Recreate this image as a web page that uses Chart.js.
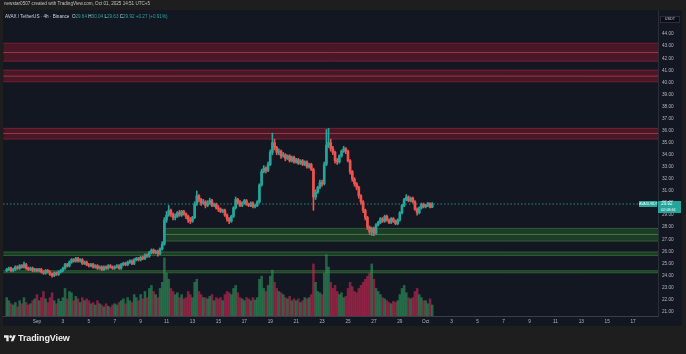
<!DOCTYPE html>
<html><head><meta charset="utf-8">
<script src="https://cdn.jsdelivr.net/npm/chart.js@4.4.1/dist/chart.umd.min.js"></script>
<style>
html,body{margin:0;padding:0;background:#1e1e1e;width:686px;height:354px;overflow:hidden;font-family:"Liberation Sans",Arial,sans-serif;}
#panel{position:absolute;left:3px;top:10px;width:679px;height:316px;background:#131722;}
#c{position:absolute;left:0;top:0;}
.t{position:absolute;white-space:nowrap;line-height:1;}
</style></head><body>
<div id="panel"></div>
<canvas id="c" width="686" height="354"></canvas>
<div class="t" style="left:4px;top:2px;font-size:4.6px;color:#c0c0c0">newstar0507 created with TradingView.com, Oct 01, 2025 14:51 UTC+5</div>
<div class="t" style="left:5px;top:15px;font-size:4.6px;color:#d1d4dc">AVAX / TetherUS · 4h · Binance &nbsp;<span>O</span><span style="color:#26a69a">29.64</span> <span>H</span><span style="color:#26a69a">30.04</span> <span>L</span><span style="color:#26a69a">29.63</span> <span>C</span><span style="color:#26a69a">29.92</span> <span style="color:#26a69a">+0.27 (+0.91%)</span></div>
<div class="t" style="left:660px;top:16px;width:20px;height:7px;background:#0c0e15;border:1px solid #2a2e39;box-sizing:border-box;font-size:3.8px;color:#c8cad0;text-align:center;line-height:5px">USDT</div>
<div class="t" id="symLbl" style="left:639px;width:18px;height:6px;background:#26a69a;color:#fff;font-size:3.6px;text-align:center;line-height:6px">AVAXUSDT</div>
<div class="t" id="priceLbl" style="left:658px;width:23px;height:12px;background:#26a69a;color:#fff;font-size:4.5px;padding-left:3px;box-sizing:border-box;line-height:5.6px">29.92<br><span style="font-size:3.7px">02:08:44</span></div>
<svg style="position:absolute;left:4px;top:334px" width="12" height="8" viewBox="0 0 36 24"><path d="M14 22H7V11H0V4h14v18zM28 22h-8l7.5-18h8L28 22z" fill="#ececec"/><circle cx="20" cy="8" r="4" fill="#ececec"/></svg>
<div class="t" style="left:18px;top:333.5px;font-size:9px;color:#ececec;font-weight:600;letter-spacing:-0.1px">TradingView</div>
<script>
// ---- data (AVAX/USDT 4h, Aug 29 16:00 -> Oct 1 12:00) ----
const firstOpen = 24.4;
const closes = [
 24.5,24.6,
 24.4,24.5,24.7,24.6,24.8,24.7,
 24.9,24.6,24.5,24.6,24.4,24.5,
 24.4,24.5,24.3,24.2,24.4,24.3,
 24.1,24.0,24.2,24.1,24.3,24.4,
 24.6,24.9,24.8,25.1,25.3,25.2,
 25.4,25.2,25.3,25.0,25.1,24.9,
 24.8,24.9,24.7,24.8,24.6,24.7,
 24.5,24.7,24.6,24.8,24.7,24.6,
 24.7,24.8,24.6,24.9,25.0,24.9,
 25.1,25.2,25.0,25.3,25.4,25.3,
 25.5,25.4,25.7,25.6,25.9,26.1,
 25.9,26.0,25.8,26.2,26.6,28.6,
 29.0,29.4,29.1,28.8,28.9,29.2,
 29.0,29.3,29.1,28.9,28.6,28.5,
 28.8,29.9,30.6,30.3,30.0,30.1,
 29.8,30.0,30.2,29.8,29.9,29.6,
 29.5,29.3,29.4,29.0,28.7,28.5,
 28.9,29.6,30.3,30.1,29.8,30.0,
 30.2,29.9,29.8,30.0,29.7,29.8,
 30.1,31.5,32.6,32.9,32.7,33.2,
 34.2,35.0,34.6,34.2,34.3,33.9,
 34.0,33.7,33.9,33.5,33.8,33.4,
 33.6,33.3,33.5,33.2,33.4,33.0,
 33.2,32.8,30.5,30.9,31.3,31.7,
 31.6,33.2,34.8,35.0,34.5,34.2,
 33.5,33.4,33.9,34.3,34.5,34.3,
 33.5,32.6,32.0,31.6,31.3,30.6,
 30.1,29.4,28.8,28.0,27.6,27.9,
 27.5,28.2,28.4,28.7,28.5,28.9,
 28.6,28.4,28.7,28.5,28.3,28.6,
 29.2,29.8,30.3,30.5,30.2,30.4,
 30.1,29.5,29.2,29.6,29.9,29.7,
 29.8,30.0,29.65,29.92
];
const highs = [
 24.6,24.7,
 24.7,24.6,24.8,24.8,24.9,24.9,
 25.1,25.0,24.7,24.7,24.7,24.6,
 24.6,24.6,24.6,24.4,24.5,24.5,
 24.4,24.2,24.3,24.3,24.4,24.5,
 24.7,25.0,25.0,25.2,25.4,25.4,
 25.5,25.5,25.4,25.4,25.2,25.2,
 25.0,25.0,25.0,24.9,24.9,24.8,
 24.8,24.8,24.8,24.9,24.9,24.8,
 24.8,24.9,24.9,25.0,25.1,25.1,
 25.2,25.3,25.3,25.4,25.5,25.5,
 25.6,25.6,25.8,25.8,26.0,26.2,
 26.2,26.1,26.1,26.3,26.8,28.8,
 29.3,29.8,29.5,29.2,29.1,29.3,
 29.4,29.4,29.4,29.2,29.0,28.8,
 28.9,30.1,31.0,30.7,30.4,30.3,
 30.2,30.2,30.4,30.3,30.0,30.0,
 29.8,29.6,29.5,29.5,29.1,28.8,
 29.0,29.7,30.5,30.4,30.2,30.1,
 30.3,30.3,30.0,30.1,30.1,29.9,
 30.2,31.6,32.8,33.1,33.0,33.4,
 34.4,35.8,35.3,34.7,34.5,34.4,
 34.2,34.1,34.0,34.0,33.9,33.9,
 33.7,33.7,33.6,33.6,33.5,33.5,
 33.3,33.3,32.9,31.1,31.4,31.9,
 31.9,33.4,36.1,36.2,35.3,34.7,
 34.3,33.7,34.0,34.4,34.7,34.6,
 34.4,33.6,32.7,32.1,31.7,31.4,
 30.7,30.2,29.5,28.9,28.1,28.0,
 28.0,28.3,28.5,28.8,28.8,29.0,
 29.0,28.7,28.8,28.8,28.6,28.7,
 29.3,29.9,30.4,30.7,30.6,30.5,
 30.5,30.2,29.6,29.7,30.0,30.0,
 29.9,30.04,30.0,30.04
];
const lows = [
 24.3,24.4,
 24.3,24.3,24.4,24.5,24.5,24.6,
 24.6,24.5,24.4,24.4,24.3,24.3,
 24.3,24.3,24.2,24.1,24.1,24.2,
 24.0,23.85,23.9,24.0,24.0,24.2,
 24.3,24.5,24.7,24.7,25.0,25.1,
 25.1,25.1,25.1,24.9,24.9,24.8,
 24.7,24.7,24.6,24.6,24.5,24.5,
 24.4,24.4,24.5,24.5,24.6,24.5,
 24.5,24.6,24.5,24.5,24.8,24.8,
 24.8,25.0,24.9,24.9,25.2,25.2,
 25.2,25.3,25.3,25.5,25.5,25.8,
 25.8,25.8,25.6,25.7,26.1,26.5,
 28.4,28.9,28.9,28.6,28.6,28.8,
 28.9,28.9,29.0,28.7,28.4,28.3,
 28.4,28.7,29.8,30.1,29.8,29.9,
 29.6,29.7,29.9,29.7,29.7,29.5,
 29.3,29.2,29.2,28.9,28.5,28.3,
 28.4,28.8,29.5,29.9,29.7,29.7,
 29.9,29.8,29.7,29.7,29.6,29.6,
 29.7,30.0,31.4,32.5,32.5,32.6,
 33.1,34.0,34.4,34.0,34.0,33.7,
 33.8,33.5,33.6,33.4,33.4,33.3,
 33.3,33.2,33.2,33.1,33.1,32.9,
 32.9,32.7,29.4,30.3,30.8,31.2,
 31.4,31.5,33.1,34.6,34.3,34.0,
 33.3,33.2,33.3,33.8,34.2,34.1,
 33.4,32.4,31.8,31.4,31.1,30.4,
 29.9,29.2,28.6,27.8,27.4,27.3,
 27.3,27.4,28.1,28.3,28.4,28.4,
 28.5,28.3,28.3,28.4,28.2,28.2,
 28.5,29.1,29.7,30.2,30.1,30.1,
 30.0,29.4,29.0,29.1,29.5,29.6,
 29.6,29.7,29.6,29.63
];
const volumes = [
 30,25,
 20,18,22,15,25,20,
 30,22,18,20,25,28,
 35,25,30,40,28,22,
 30,38,25,20,28,24,
 30,45,28,40,38,25,
 32,28,22,30,25,28,
 25,20,22,18,25,20,
 18,15,20,16,14,18,
 20,18,22,25,28,20,
 30,25,22,35,30,25,
 35,28,40,30,45,50,
 40,35,30,45,55,95,
 70,60,45,40,35,38,
 30,35,28,30,40,35,
 30,55,60,40,35,30,
 30,28,32,35,25,30,
 28,30,25,35,40,38,
 35,45,50,38,30,28,
 25,30,28,25,30,26,
 30,60,65,45,40,50,
 65,75,55,45,40,38,
 35,30,28,32,25,28,
 25,28,22,25,30,28,
 30,35,85,55,40,38,
 35,70,100,80,55,45,
 50,40,35,38,30,32,
 45,55,48,40,38,45,
 50,55,60,65,70,85,
 60,45,40,35,30,28,
 25,22,20,24,22,25,
 35,45,50,38,30,28,
 30,40,45,35,30,25,
 25,20,28,18
];
// first candle is 14 bars (4h) before Sep 1 00:00; x unit = days since Sep 1
const barsBeforeSep1 = 14;
const barsPerDay = 6;
// price zones
const zoneTops    = [43.25, 41.02, 36.19, 27.90, 25.95, 24.39];
const zoneBottoms = [41.76, 40.05, 35.30, 26.85, 25.66, 24.22];
const zoneMids    = [42.48, 40.52, 35.77, 27.40, null, null];
const zoneStarts  = [-2.6, -2.6, -2.6, 9.9, -2.6, -2.6];
const zoneKinds   = ['supply','supply','supply','demand','demand','demand'];
const yTickValues = [21,22,23,24,25,26,27,28,29,30,31,32,33,34,35,36,37,38,39,40,41,42,43,44];
const xTickDays   = [0,2,4,6,8,10,12,14,16,18,20,22,24,26,28,30,32,34,36,38,40,42,44,46];
const xTickLabels = ['Sep','3','5','7','9','11','13','15','17','19','21','23','25','27','29','Oct','3','5','7','9','11','13','15','17'];
const lastPrice = 29.92;
const xMin = -2.62, xMax = 47.92, yMin = 20.64, yMax = 46.0;

// ---- build ----
const UP = '#26a69a', DOWN = '#ef5350';
const opens = closes.map((c, i) => i === 0 ? firstOpen : closes[i - 1]);
const xs = closes.map((c, i) => (i - barsBeforeSep1) / barsPerDay);
const isUp = closes.map((c, i) => c >= opens[i]);
const bodies = closes.map((c, i) => ({x: xs[i], y: [opens[i], c]}));
const wicks = closes.map((c, i) => ({x: xs[i], y: [lows[i], highs[i]]}));
const vols = volumes.map((v, i) => ({x: xs[i], y: v}));
const candleColors = isUp.map(u => u ? UP : DOWN);
const volColors = isUp.map(u => u ? 'rgba(46,150,90,0.62)' : 'rgba(205,40,85,0.6)');

const datasets = [];
zoneTops.forEach((top, k) => {
  const red = zoneKinds[k] === 'supply';
  datasets.push({
    type: 'line', data: [{x: zoneStarts[k], y: top}, {x: xMax, y: top}],
    borderColor: red ? 'rgba(170,40,60,0.55)' : 'rgba(70,150,70,0.5)', borderWidth: 1,
    backgroundColor: red ? 'rgba(150,25,45,0.42)' : 'rgba(45,120,45,0.38)',
    fill: {value: zoneBottoms[k]}, pointRadius: 0, order: 20
  });
  datasets.push({
    type: 'line', data: [{x: zoneStarts[k], y: zoneBottoms[k]}, {x: xMax, y: zoneBottoms[k]}],
    borderColor: red ? 'rgba(170,40,60,0.55)' : 'rgba(70,150,70,0.5)', borderWidth: 1,
    fill: false, pointRadius: 0, order: 19
  });
  if (zoneMids[k] !== null) datasets.push({
    type: 'line', data: [{x: zoneStarts[k], y: zoneMids[k]}, {x: xMax, y: zoneMids[k]}],
    borderColor: red ? 'rgba(200,80,100,0.6)' : 'rgba(110,170,110,0.55)', borderWidth: 1,
    fill: false, pointRadius: 0, order: 18
  });
});
datasets.push({type: 'bar', data: vols, yAxisID: 'yv', backgroundColor: volColors, barThickness: 1.9, grouped: false, order: 10});
datasets.push({type: 'line', data: [{x: xMin, y: lastPrice}, {x: xMax, y: lastPrice}], borderColor: 'rgba(38,166,154,0.8)', borderWidth: 1, borderDash: [1.5, 2], pointRadius: 0, fill: false, order: 5});
datasets.push({type: 'bar', data: wicks, backgroundColor: candleColors, barThickness: 1, grouped: false, order: 2});
datasets.push({type: 'bar', data: bodies, backgroundColor: candleColors, barThickness: 2, minBarLength: 0.8, grouped: false, order: 1});

const tickFont = {family: 'Liberation Sans, Arial, sans-serif', size: 4.7};
const chart = new Chart(document.getElementById('c'), {
  type: 'bar',
  data: {datasets},
  options: {
    responsive: false, animation: false, devicePixelRatio: 1,
    layout: {padding: {left: 3, top: 10, right: 4, bottom: 28}},
    plugins: {legend: {display: false}, tooltip: {enabled: false}},
    scales: {
      x: {
        type: 'linear', position: 'bottom', min: xMin, max: xMax, offset: false,
        grid: {display: false, drawTicks: false},
        border: {color: '#3a3e49', width: 1},
        afterFit: s => { s.height = 10; },
        afterBuildTicks: s => { s.ticks = xTickDays.map(v => ({value: v})); },
        ticks: {autoSkip: false, maxRotation: 0, color: '#b2b5be', font: tickFont, padding: 2.5,
          callback: v => xTickLabels[xTickDays.indexOf(v)]}
      },
      y: {
        type: 'linear', position: 'right', min: yMin, max: yMax,
        grid: {display: false, drawTicks: false},
        border: {color: '#2a2e39', width: 1},
        afterFit: s => { s.width = 24; },
        afterBuildTicks: s => { s.ticks = yTickValues.map(v => ({value: v})); },
        ticks: {color: '#b2b5be', font: tickFont, padding: 4, callback: v => v.toFixed(2)}
      },
      yv: {type: 'linear', display: false, min: 0, max: 500}
    }
  }
});
const py = chart.scales.y.getPixelForValue(lastPrice);
document.getElementById('symLbl').style.top = (py - 3) + 'px';
document.getElementById('priceLbl').style.top = (py - 3) + 'px';
</script>
</body></html>
